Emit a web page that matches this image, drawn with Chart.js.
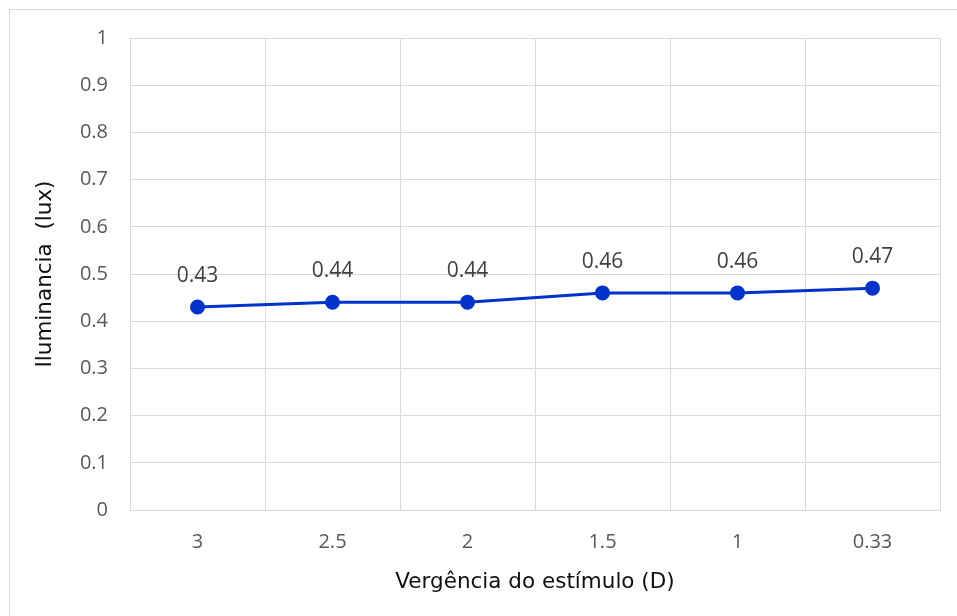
<!DOCTYPE html>
<html>
<head>
<meta charset="utf-8">
<script src="https://cdn.jsdelivr.net/npm/chart.js@4"></script>
<style>
	html, body { margin: 0; padding: 0; background: #fff; overflow: hidden; }
	#frame { position: absolute; left: 9px; top: 9px; width: 1000px; height: 700px; border: 1px solid #d9d9d9; }
	#chart { position: absolute; left: 0; top: 0; }
</style>
</head>
<body>
<div id="frame"></div>
<canvas id="chart" width="957" height="616"></canvas>
<script>
const categories = ['3', '2.5', '2', '1.5', '1', '0.33'];
const luminance = [0.43, 0.44, 0.44, 0.46, 0.46, 0.47];
const yTitle = 'Iluminancia  (lux)';
const xTitle = 'Vergência do estímulo (D)';

// labels above each point
const pointLabels = {
	id: 'pointLabels',
	afterDatasetsDraw(chart) {
		const ctx = chart.ctx;
		const meta = chart.getDatasetMeta(0);
		ctx.save();
		ctx.font = '21px "Open Sans"';
		ctx.fillStyle = '#404040';
		ctx.textAlign = 'center';
		ctx.textBaseline = 'middle';
		meta.data.forEach((pt, i) => {
			ctx.fillText(luminance[i].toFixed(2), pt.x, pt.y - 31);
		});
		ctx.restore();
	}
};

new Chart(document.getElementById('chart'), {
	type: 'line',
	data: {
		labels: categories,
		datasets: [{
			data: luminance,
			borderColor: '#0033cc',
			backgroundColor: '#0033cc',
			borderWidth: 3,
			pointRadius: 6,
			pointBackgroundColor: '#0033cc',
			pointBorderColor: '#0033cc',
			tension: 0
		}]
	},
	options: {
		responsive: false,
		animation: false,
		layout: { padding: { left: 0, top: 38, right: 17, bottom: 0 } },
		plugins: { legend: { display: false }, tooltip: { enabled: false } },
		scales: {
			x: {
				offset: true,
				afterFit: s => { s.height = 106; },
				grid: { offset: true, color: '#d9d9d9', drawTicks: false },
				border: { color: '#d9d9d9' },
				ticks: { color: '#595959', font: { family: '"Open Sans"', size: 20 }, padding: 20 },
				title: { display: true, text: xTitle, color: '#111111', font: { family: '"DejaVu Sans"', size: 21.5 }, padding: { bottom: 21 } }
			},
			y: {
				min: 0,
				max: 1,
				afterFit: s => { s.width = 130; },
				grid: { color: '#d9d9d9', drawTicks: false },
				border: { display: false },
				ticks: { stepSize: 0.1, color: '#595959', font: { family: '"Open Sans"', size: 20 }, padding: 22,
					callback: v => Math.round(v * 10) / 10 },
				title: { display: true, text: yTitle, color: '#111111', font: { family: '"DejaVu Sans"', size: 21.5 }, padding: { top: 33 } }
			}
		}
	},
	plugins: [pointLabels]
});
</script>
</body>
</html>
